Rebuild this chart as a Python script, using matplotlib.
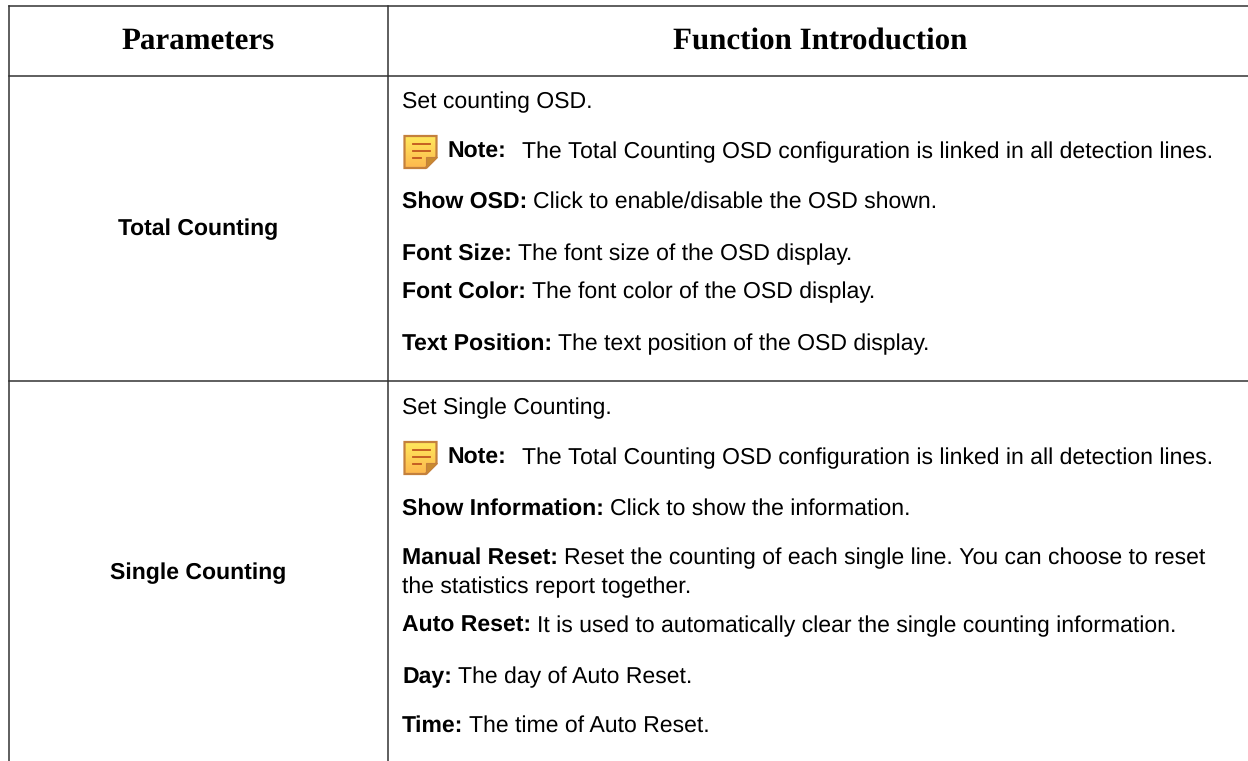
import matplotlib
matplotlib.use("Agg")
import matplotlib.pyplot as plt
import numpy as np
from matplotlib.colors import LinearSegmentedColormap
from matplotlib.patches import Polygon

plt.rcParams['font.family'] = ['Liberation Sans', 'DejaVu Sans']
plt.rcParams['text.hinting'] = 'no_hinting'
plt.rcParams['text.hinting_factor'] = 1

headers = ["Parameters", "Function Introduction"]
params = ["Total Counting", "Single Counting"]

# (bold part, normal part, baseline y)
row1 = [
    ("", "Set counting OSD.", 108),
    ("Note:", "The Total Counting OSD configuration is linked in all detection lines.", 158),
    ("Show OSD:", "Click to enable/disable the OSD shown.", 208),
    ("Font Size:", "The font size of the OSD display.", 260),
    ("Font Color:", "The font color of the OSD display.", 298),
    ("Text Position:", "The text position of the OSD display.", 350),
]
row2 = [
    ("", "Set Single Counting.", 414),
    ("Note:", "The Total Counting OSD configuration is linked in all detection lines.", 464),
    ("Show Information:", "Click to show the information.", 515),
    ("Manual Reset:", "Reset the counting of each single line. You can choose to reset", 564),
    ("", "the statistics report together.", 593),
    ("Auto Reset:", "It is used to automatically clear the single counting information.", 632),
    ("Day:", "The day of Auto Reset.", 683),
    ("Time:", "The time of Auto Reset.", 732),
]

fig = plt.figure(figsize=(12.48, 7.61), dpi=100)
ax = fig.add_axes([0, 0, 1, 1])
r = fig.canvas.get_renderer()
note_cmap = LinearSegmentedColormap.from_list('note', ['#ffe85c', '#fdb84e'])

LEFT, MID, TOP, HEAD, SEP = 9, 388, 6, 76, 381
line_col = '#333333'
ax.plot([LEFT, 1248], [TOP, TOP], color=line_col, lw=1.1)
ax.plot([LEFT, 1248], [HEAD, HEAD], color=line_col, lw=1.1)
ax.plot([LEFT, 1248], [SEP, SEP], color=line_col, lw=1.1)
ax.plot([LEFT, LEFT], [TOP, 761], color=line_col, lw=1.1)
ax.plot([MID, MID], [TOP, 761], color=line_col, lw=1.1)

ax.text(198, 48.5, headers[0], family='Liberation Serif', weight='bold', fontsize=22, ha='center', va='baseline', color='black')
ax.text(820.5, 48.5, headers[1], family='Liberation Serif', weight='bold', fontsize=22, ha='center', va='baseline', color='black')
ax.text(198, 235, params[0], weight='bold', fontsize=16.5, ha='center', va='baseline', color='black')
ax.text(198.5, 579, params[1], weight='bold', fontsize=16.5, ha='center', va='baseline', color='black')


def note_icon(x, y):
    outline = [(x, y), (x + 32, y), (x + 32, y + 21), (x + 21, y + 32), (x, y + 32)]
    img = ax.imshow(np.linspace(0, 1, 32).reshape(-1, 1), cmap=note_cmap, aspect='auto',
                    extent=(x, x + 32, y + 32, y), zorder=2)
    clip = Polygon(outline, closed=True, facecolor='none', edgecolor='#c4803c', lw=1.6, zorder=3)
    ax.add_patch(clip)
    img.set_clip_path(clip)
    ax.add_patch(Polygon([(x + 32, y + 21), (x + 21, y + 21), (x + 21, y + 32)],
                         closed=True, facecolor='#c98a30', edgecolor='#c4803c', lw=0.8, zorder=3))
    for dy, w in ((8, 17), (15, 17), (22, 8)):
        ax.plot([x + 8.5, x + 8.5 + w], [y + dy, y + dy], color='#c0561e', lw=1.3, zorder=3)


def draw_rows(rows):
    for bold, normal, y in rows:
        x = 402
        if bold == "Note:":
            note_icon(404.5, y - 22)
            x = 447
        if bold:
            t = ax.text(x, y, bold, weight='bold', fontsize=16.5, va='baseline', color='black')
            w = t.get_window_extent(r).width
            x = x + w + (16 if bold == "Note:" else 6)
        ax.text(x, y, normal, fontsize=16.5, va='baseline', color='black')


draw_rows(row1)
draw_rows(row2)

ax.set_xlim(0, 1248)
ax.set_ylim(761, 0)
ax.axis('off')

fig.savefig("out.png", dpi=100)
